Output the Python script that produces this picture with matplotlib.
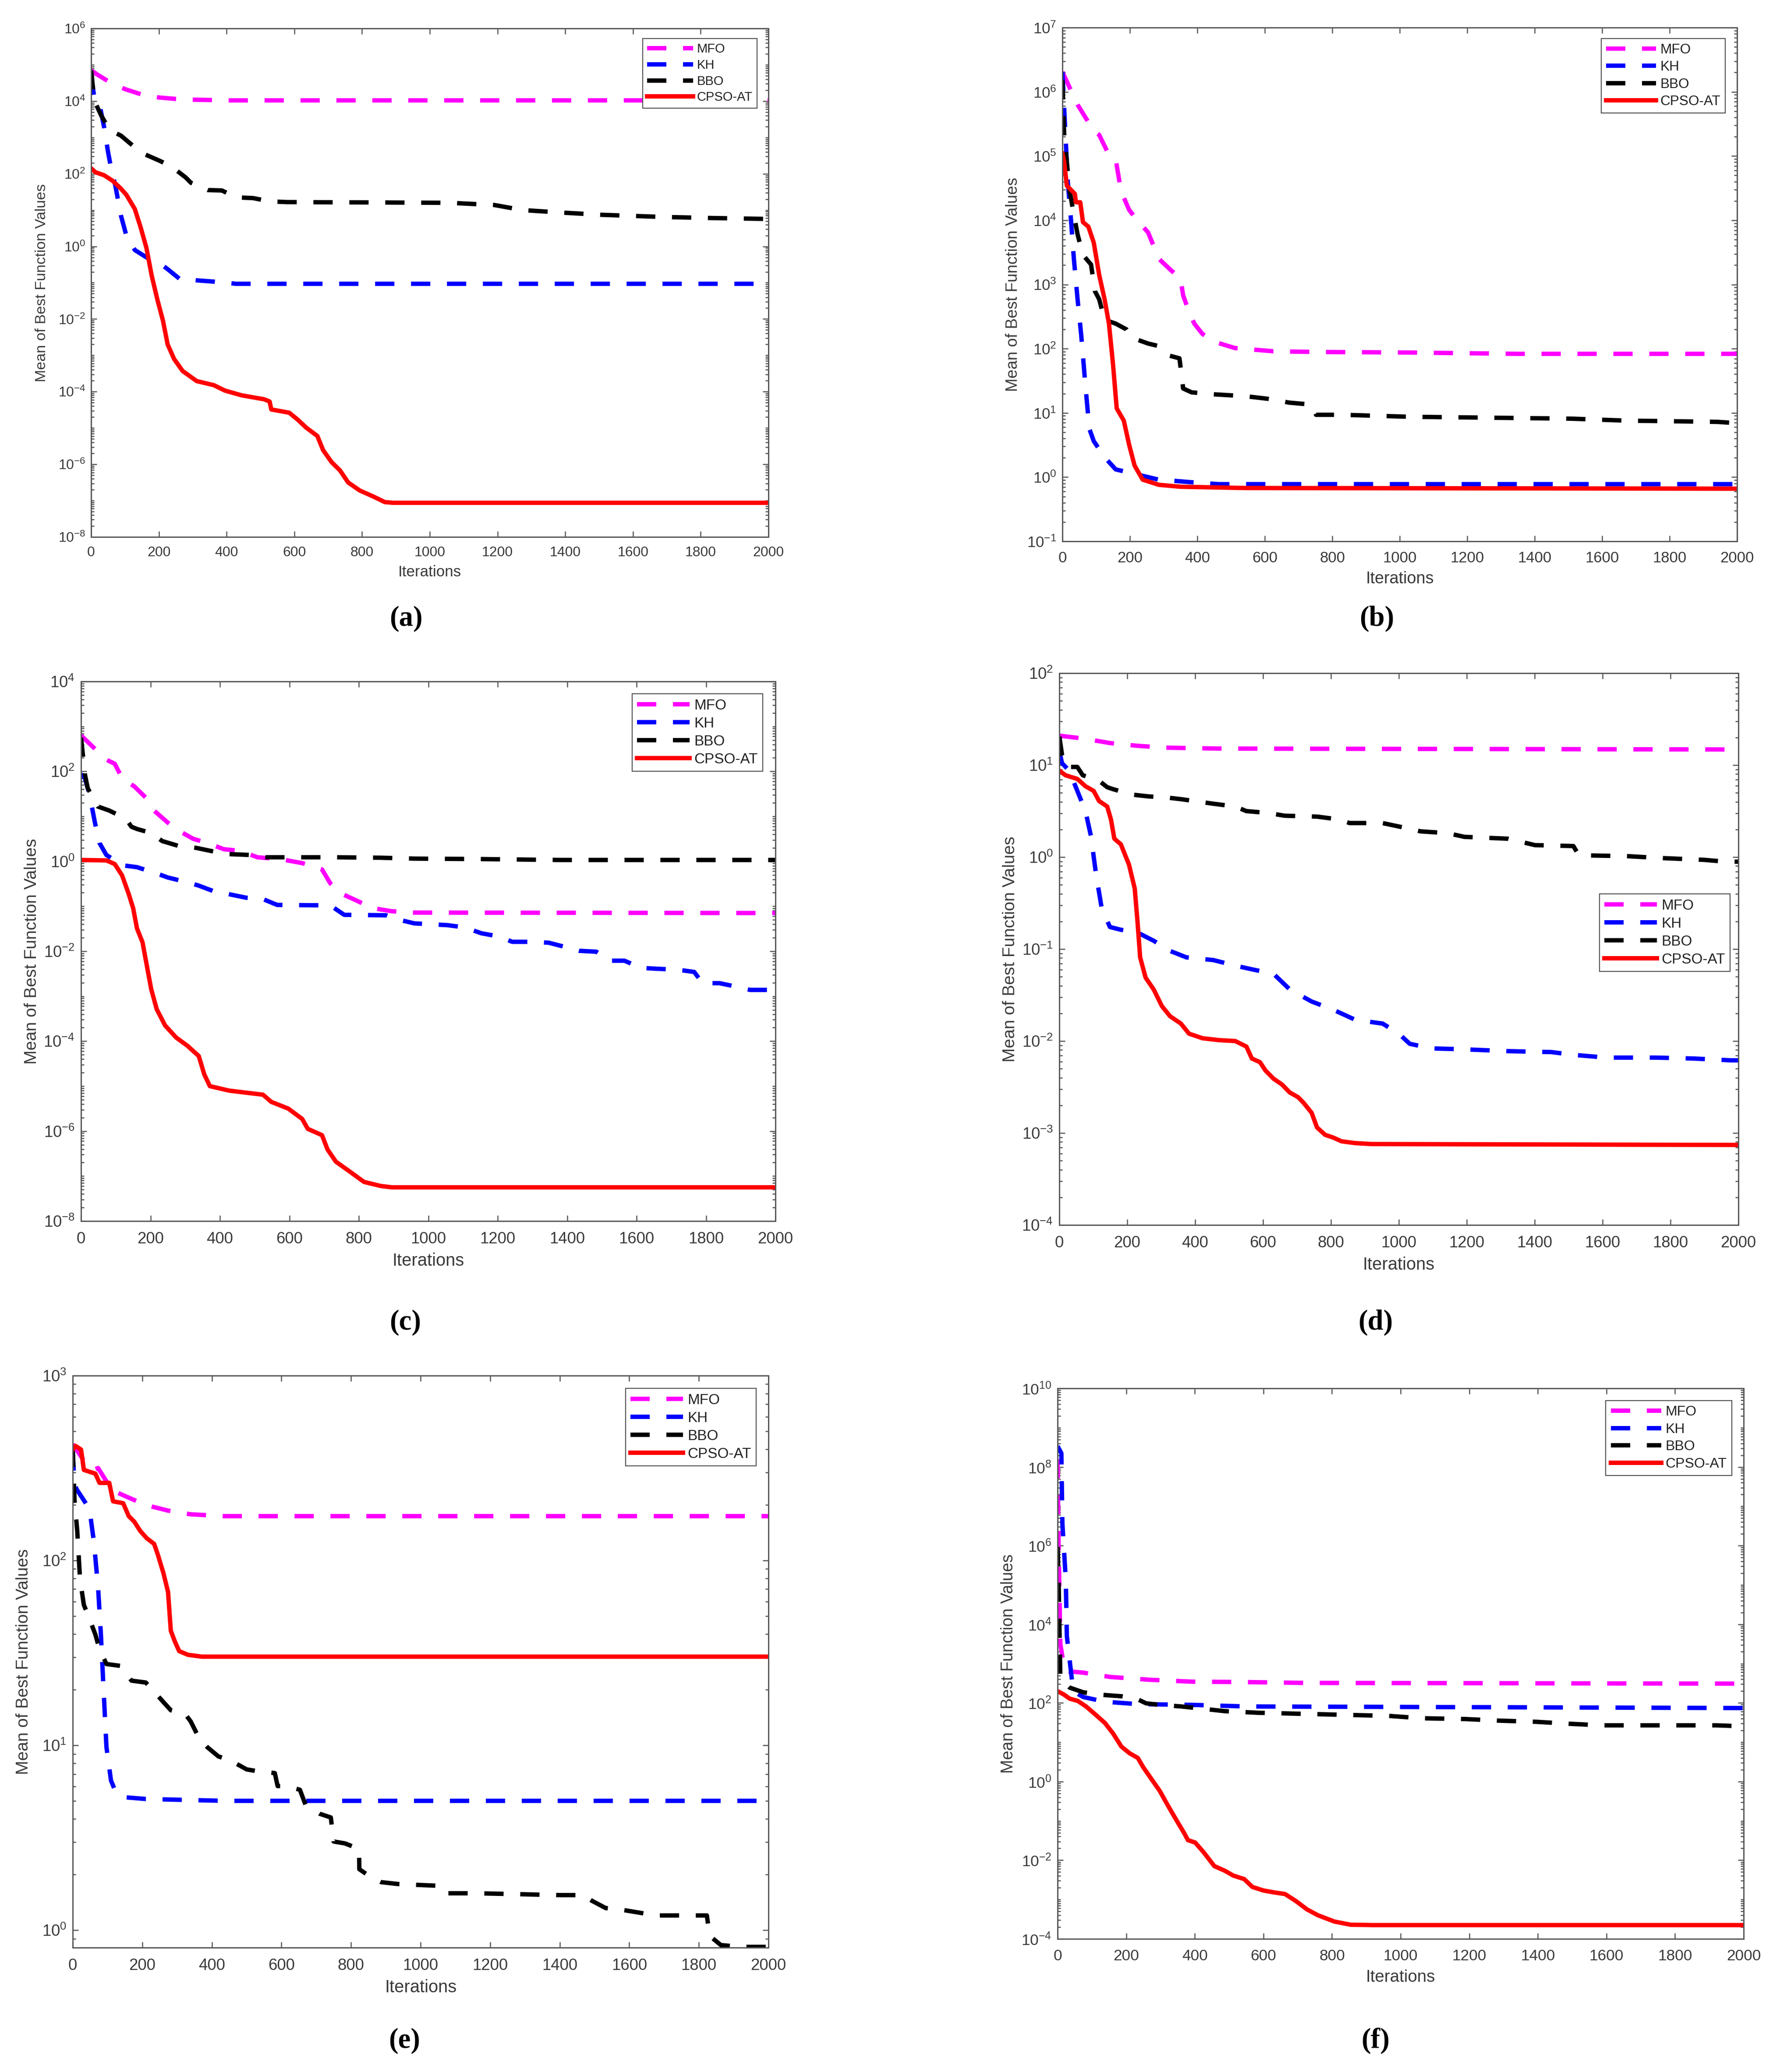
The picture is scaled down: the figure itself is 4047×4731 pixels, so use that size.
import numpy as np
import matplotlib
matplotlib.use("Agg")
import matplotlib.pyplot as plt
from matplotlib.ticker import FixedLocator, LogLocator, FuncFormatter, NullFormatter

plt.rcParams['font.family'] = ['Liberation Sans', 'DejaVu Sans']
plt.rcParams['mathtext.fontset'] = 'custom'
plt.rcParams['mathtext.rm'] = 'Liberation Sans'
plt.rcParams['mathtext.default'] = 'regular'

# ---- data: iterations and log10(mean best value) ----
labels = ['MFO', 'KH', 'BBO', 'CPSO-AT']
colors = ['#ff00ff', '#0000ff', '#000000', '#ff0000']

# (a)
a_mfo_x = [0, 20, 50, 100, 150, 200, 250, 300, 400, 2000]
a_mfo_y = [4.85, 4.72, 4.55, 4.33, 4.18, 4.1, 4.06, 4.04, 4.02, 4.02]
a_kh_x = [0, 10, 25, 38, 50, 60, 71, 88, 104, 129, 163, 204, 229, 262, 362, 428, 2000]
a_kh_y = [4.7, 4.05, 3.9, 3.3, 2.6, 2.1, 1.7, 0.85, 0.3, -0.1, -0.3, -0.47, -0.65, -0.9, -0.97, -1.03, -1.03]
a_bbo_x = [0, 5, 10, 20, 30, 55, 88, 130, 155, 204, 237, 279, 295, 345, 386, 428, 478, 527, 577,
           1058, 1190, 1274, 1390, 1506, 1689, 1838, 2000]
a_bbo_y = [4.85, 4.4, 4.0, 3.8, 3.6, 3.2, 3.05, 2.72, 2.55, 2.35, 2.2, 1.9, 1.75, 1.55, 1.54, 1.35, 1.33, 1.24, 1.22,
           1.2, 1.14, 1.0, 0.93, 0.87, 0.81, 0.78, 0.755]
a_cpso_x = [0, 13, 38, 63, 88, 104, 129, 146, 163, 179, 196, 212, 226, 245, 270, 312, 362, 395, 444, 511,
            527, 532, 585, 610, 635, 668, 685, 710, 735, 759, 793, 834, 867, 892, 2000]
a_cpso_y = [2.15, 2.04, 1.96, 1.81, 1.59, 1.42, 1.03, 0.53, -0.03, -0.81, -1.48, -2.04, -2.7, -3.1, -3.43, -3.71,
            -3.82, -3.97, -4.1, -4.21, -4.27, -4.49, -4.58, -4.77, -4.99, -5.22, -5.61, -5.94, -6.17, -6.5,
            -6.72, -6.89, -7.04, -7.06, -7.06]

# (b)
b_mfo_x = [0, 45, 93, 109, 133, 158, 174, 198, 222, 254, 286, 318, 350, 358, 375, 391, 415, 455, 511,
           624, 736, 1026, 1347, 2000]
b_mfo_y = [6.31, 5.8, 5.39, 5.33, 5.07, 4.95, 4.45, 4.16, 4.0, 3.81, 3.4, 3.24, 3.09, 2.83, 2.58, 2.39, 2.23,
           2.1, 2.01, 1.96, 1.95, 1.94, 1.92, 1.92]
b_kh_x = [0, 10, 16, 26, 34, 45, 56, 69, 80, 93, 125, 158, 206, 286, 383, 463, 2000]
b_kh_y = [6.31, 5.23, 4.6, 3.97, 3.4, 2.77, 2.2, 1.38, 0.75, 0.56, 0.31, 0.12, 0.06, -0.04, -0.08, -0.11, -0.11]
b_bbo_x = [0, 5, 13, 21, 37, 45, 61, 85, 96, 109, 125, 158, 190, 206, 254, 286, 318, 347, 358, 383, 447,
           543, 608, 672, 736, 752, 833, 1026, 1186, 1508, 1669, 1942, 2000]
b_bbo_y = [6.18, 5.36, 4.92, 4.47, 4.0, 3.78, 3.46, 3.31, 2.9, 2.77, 2.45, 2.39, 2.3, 2.17, 2.08, 2.04, 1.89,
           1.85, 1.38, 1.32, 1.29, 1.26, 1.22, 1.16, 1.13, 0.97, 0.97, 0.94, 0.93, 0.91, 0.88, 0.86, 0.84]
b_cpso_x = [0, 5, 13, 26, 37, 40, 53, 61, 77, 93, 109, 125, 138, 150, 161, 182, 198, 214, 238, 286, 350,
            543, 2000]
b_cpso_y = [5.04, 4.92, 4.54, 4.47, 4.41, 4.28, 4.28, 3.97, 3.9, 3.65, 3.15, 2.77, 2.39, 1.76, 1.07, 0.88,
            0.5, 0.18, -0.04, -0.12, -0.15, -0.17, -0.18]

# (c)
c_mfo_x = [0, 24, 73, 97, 121, 153, 194, 210, 250, 282, 323, 363, 411, 460, 508, 573, 637, 694, 718, 750,
           790, 839, 895, 960, 2000]
c_mfo_y = [2.8, 2.62, 2.26, 2.17, 1.81, 1.67, 1.36, 1.13, 0.86, 0.68, 0.5, 0.41, 0.27, 0.23, 0.09, 0.05,
           -0.04, -0.18, -0.49, -0.72, -0.86, -1.04, -1.11, -1.14, -1.15]
c_kh_x = [0, 11, 21, 32, 40, 53, 73, 121, 161, 218, 250, 298, 339, 387, 419, 476, 524, 565, 718, 758,
          879, 911, 960, 1008, 1056, 1105, 1153, 1202, 1242, 1290, 1347, 1387, 1435, 1484, 1524, 1565,
          1613, 1661, 1718, 1766, 1790, 1839, 1895, 1927, 2000]
c_kh_y = [1.94, 1.85, 1.58, 1.18, 0.86, 0.41, 0.14, -0.09, -0.13, -0.27, -0.36, -0.45, -0.54, -0.68,
          -0.72, -0.81, -0.84, -0.97, -0.98, -1.19, -1.2, -1.29, -1.38, -1.4, -1.42, -1.47, -1.6, -1.67,
          -1.79, -1.79, -1.81, -1.89, -1.99, -2.01, -2.21, -2.21, -2.37, -2.39, -2.41, -2.46, -2.71,
          -2.71, -2.8, -2.86, -2.86]
c_bbo_x = [0, 5, 11, 19, 48, 81, 129, 145, 161, 202, 234, 282, 331, 387, 427, 492, 532, 605, 734, 863,
           960, 1153, 1379, 2000]
c_bbo_y = [2.75, 2.39, 1.94, 1.63, 1.22, 1.13, 0.95, 0.77, 0.72, 0.63, 0.45, 0.34, 0.3, 0.21, 0.16, 0.14,
           0.09, 0.09, 0.09, 0.08, 0.06, 0.05, 0.03, 0.03]
c_cpso_x = [0, 73, 97, 118, 137, 150, 161, 177, 189, 202, 218, 242, 274, 306, 339, 355, 371, 427, 524,
            548, 597, 637, 653, 694, 710, 734, 774, 815, 863, 895, 2000]
c_cpso_y = [0.03, 0.02, -0.06, -0.31, -0.72, -1.04, -1.49, -1.8, -2.3, -2.84, -3.29, -3.65, -3.92, -4.1,
            -4.33, -4.74, -5.0, -5.1, -5.19, -5.35, -5.5, -5.73, -5.95, -6.09, -6.41, -6.68, -6.9, -7.13,
            -7.22, -7.25, -7.25]

# (d)
d_mfo_x = [0, 69, 149, 230, 310, 470, 2000]
d_mfo_y = [1.32, 1.29, 1.24, 1.21, 1.19, 1.18, 1.17]
d_kh_x = [0, 8, 29, 53, 77, 93, 109, 125, 149, 181, 230, 278, 326, 374, 454, 518, 567, 631, 679, 743,
          807, 872, 952, 1000, 1032, 1096, 1193, 1321, 1449, 1514, 1610, 1754, 1867, 1979, 2000]
d_kh_y = [1.15, 1.02, 0.94, 0.72, 0.5, 0.23, -0.21, -0.56, -0.76, -0.79, -0.82, -0.91, -1.02, -1.09,
          -1.12, -1.18, -1.22, -1.27, -1.44, -1.57, -1.66, -1.77, -1.81, -1.92, -2.03, -2.08, -2.09,
          -2.11, -2.12, -2.15, -2.18, -2.18, -2.19, -2.21, -2.21]
d_bbo_x = [0, 8, 21, 53, 69, 117, 141, 157, 213, 262, 310, 358, 454, 518, 551, 615, 663, 759, 823, 855,
           952, 1016, 1064, 1144, 1193, 1257, 1321, 1401, 1514, 1530, 1674, 1770, 1899, 1963, 2000]
d_bbo_y = [1.31, 1.11, 0.98, 0.98, 0.89, 0.83, 0.76, 0.74, 0.68, 0.66, 0.65, 0.63, 0.58, 0.55, 0.5, 0.48,
           0.45, 0.44, 0.41, 0.37, 0.37, 0.32, 0.28, 0.26, 0.22, 0.21, 0.2, 0.13, 0.12, 0.02, 0.01, -0.01,
           -0.03, -0.05, -0.05]
d_cpso_x = [0, 18, 53, 77, 101, 117, 141, 152, 162, 181, 205, 222, 230, 238, 254, 278, 302, 326, 358,
            382, 422, 470, 518, 551, 567, 591, 607, 631, 655, 679, 703, 719, 743, 759, 783, 807, 831, 872,
            920, 2000]
d_cpso_y = [0.94, 0.89, 0.85, 0.77, 0.72, 0.61, 0.55, 0.41, 0.2, 0.14, -0.08, -0.34, -0.69, -1.09, -1.31,
            -1.44, -1.62, -1.73, -1.81, -1.92, -1.97, -1.99, -2.0, -2.06, -2.19, -2.23, -2.32, -2.41,
            -2.47, -2.56, -2.61, -2.67, -2.78, -2.94, -3.02, -3.05, -3.09, -3.11, -3.12, -3.13]

# (e)
e_mfo_x = [0, 32, 56, 73, 113, 161, 210, 274, 339, 435, 2000]
e_mfo_y = [2.63, 2.54, 2.49, 2.5, 2.38, 2.34, 2.3, 2.27, 2.25, 2.24, 2.24]
e_kh_x = [0, 5, 13, 48, 61, 73, 81, 89, 97, 110, 121, 145, 210, 435, 2000]
e_kh_y = [2.59, 2.41, 2.38, 2.28, 2.1, 1.85, 1.6, 1.29, 0.99, 0.81, 0.76, 0.72, 0.71, 0.7, 0.7]
e_bbo_x = [0, 5, 13, 21, 32, 45, 65, 77, 97, 137, 169, 210, 234, 258, 282, 323, 339, 363, 387, 419,
           452, 500, 532, 581, 589, 613, 653, 669, 710, 742, 750, 782, 823, 824, 855, 887, 935, 1056,
           1073, 1161, 1403, 1468, 1492, 1532, 1581, 1677, 1823, 1831, 1863, 1919, 2000]
e_bbo_y = [2.61, 2.33, 2.16, 1.9, 1.76, 1.7, 1.6, 1.52, 1.44, 1.43, 1.35, 1.34, 1.29, 1.24, 1.19, 1.17,
           1.13, 1.04, 0.99, 0.94, 0.92, 0.87, 0.86, 0.85, 0.78, 0.78, 0.76, 0.68, 0.63, 0.61, 0.48, 0.47,
           0.44, 0.33, 0.29, 0.26, 0.25, 0.24, 0.2, 0.2, 0.19, 0.19, 0.16, 0.12, 0.11, 0.08, 0.08, -0.03,
           -0.08, -0.09, -0.09]
e_cpso_x = [0, 8, 24, 32, 65, 77, 105, 116, 145, 161, 177, 194, 213, 234, 245, 261, 274, 282, 294, 306,
            331, 371, 435, 2000]
e_cpso_y = [2.6, 2.62, 2.6, 2.49, 2.47, 2.42, 2.42, 2.32, 2.31, 2.24, 2.21, 2.16, 2.12, 2.09, 2.03, 1.93,
            1.83, 1.62, 1.56, 1.51, 1.49, 1.48, 1.48, 1.48]

# (f)
f_mfo_x = [0, 3, 8, 20, 35, 75, 154, 266, 393, 552, 711, 2000]
f_mfo_y = [8.2, 6.0, 3.5, 2.85, 2.8, 2.77, 2.66, 2.59, 2.54, 2.53, 2.51, 2.49]
f_kh_x = [0, 11, 14, 24, 27, 35, 43, 51, 75, 138, 234, 393, 552, 2000]
f_kh_y = [8.53, 8.35, 6.56, 5.13, 3.7, 3.1, 2.5, 2.27, 2.15, 2.03, 1.97, 1.95, 1.91, 1.87]
f_bbo_x = [0, 3, 8, 35, 75, 123, 186, 234, 258, 298, 361, 425, 488, 584, 679, 775, 870, 966, 1061, 1189,
           1284, 1395, 1491, 1587, 1921, 1985, 2000]
f_bbo_y = [5.97, 5.13, 2.62, 2.39, 2.27, 2.21, 2.17, 2.09, 1.99, 1.95, 1.91, 1.85, 1.79, 1.75, 1.73, 1.71,
           1.69, 1.67, 1.61, 1.59, 1.55, 1.52, 1.47, 1.43, 1.43, 1.41, 1.41]
f_cpso_x = [0, 19, 35, 59, 83, 107, 138, 162, 186, 210, 234, 250, 274, 298, 321, 345, 369, 380, 401, 425,
            457, 488, 512, 544, 568, 600, 632, 663, 695, 727, 759, 807, 854, 918, 2000]
f_cpso_y = [2.3, 2.21, 2.11, 2.05, 1.91, 1.73, 1.49, 1.22, 0.89, 0.72, 0.6, 0.36, 0.06, -0.24, -0.6,
            -0.96, -1.31, -1.49, -1.55, -1.79, -2.15, -2.27, -2.39, -2.48, -2.68, -2.77, -2.82, -2.86,
            -3.04, -3.25, -3.4, -3.56, -3.64, -3.65, -3.65]

# y-axis ranges (log10) and major tick exponents
a_ylim, a_yticks = (-8, 6), list(range(-8, 7, 2))
b_ylim, b_yticks = (-1, 7), list(range(-1, 8))
c_ylim, c_yticks = (-8, 4), list(range(-8, 5, 2))
d_ylim, d_yticks = (-4, 2), list(range(-4, 3))
e_ylim, e_yticks = (-0.094, 3), list(range(0, 4))
f_ylim, f_yticks = (-4, 10), list(range(-4, 11, 2))
x_ticks = list(range(0, 2001, 200))

# ---- layout in pixels ----
W, H, DPI = 4047, 4731, 300
panels = [
    # tag, series, ylim, yticks, box (L, T, R, B), legend offset (right, top), font scale, caption xy
    ('(a)', [(a_mfo_x, a_mfo_y), (a_kh_x, a_kh_y), (a_bbo_x, a_bbo_y), (a_cpso_x, a_cpso_y)],
     a_ylim, a_yticks, (208, 65, 1754, 1226), (26, 23), 1.0, (927, 1413)),
    ('(b)', [(b_mfo_x, b_mfo_y), (b_kh_x, b_kh_y), (b_bbo_x, b_bbo_y), (b_cpso_x, b_cpso_y)],
     b_ylim, b_yticks, (2425, 63, 3965, 1236), (27, 25), 1.08, (3143, 1413)),
    ('(c)', [(c_mfo_x, c_mfo_y), (c_kh_x, c_kh_y), (c_bbo_x, c_bbo_y), (c_cpso_x, c_cpso_y)],
     c_ylim, c_yticks, (185, 1556, 1770, 2788), (29, 28), 1.14, (925, 3020)),
    ('(d)', [(d_mfo_x, d_mfo_y), (d_kh_x, d_kh_y), (d_bbo_x, d_bbo_y), (d_cpso_x, d_cpso_y)],
     d_ylim, d_yticks, (2418, 1537, 3968, 2797), (19, 504), 1.14, (3140, 3020)),
    ('(e)', [(e_mfo_x, e_mfo_y), (e_kh_x, e_kh_y), (e_bbo_x, e_bbo_y), (e_cpso_x, e_cpso_y)],
     e_ylim, e_yticks, (166, 3141, 1754, 4447), (28, 29), 1.14, (923, 4660)),
    ('(f)', [(f_mfo_x, f_mfo_y), (f_kh_x, f_kh_y), (f_bbo_x, f_bbo_y), (f_cpso_x, f_cpso_y)],
     f_ylim, f_yticks, (2414, 3170, 3980, 4427), (27, 28), 1.1, (3140, 4660)),
]

axis_col = '#555555'
fig = plt.figure(figsize=(W / DPI, H / DPI), dpi=DPI)
lw = 10 * 72 / DPI

for tag, series, ylim, yticks, box, leg_off, s, cap in panels:
    L, T, R, B = box
    ax = fig.add_axes([L / W, 1 - B / H, (R - L) / W, (B - T) / H])
    for (xs, ys), lab, col in zip(series, labels, colors):
        vals = 10.0 ** np.array(ys)
        if lab == 'CPSO-AT':
            ax.plot(xs, vals, color=col, lw=lw, label=lab, solid_joinstyle='round')
        else:
            ax.plot(xs, vals, color=col, lw=lw, label=lab, linestyle=(0, (4.4, 3.8)),
                    dash_capstyle='butt')
    ax.set_yscale('log')
    ax.set_xlim(0, 2000)
    ax.set_ylim(10.0 ** ylim[0], 10.0 ** ylim[1])
    ax.xaxis.set_major_locator(FixedLocator(x_ticks))
    ax.yaxis.set_major_locator(FixedLocator([10.0 ** k for k in yticks]))
    ax.yaxis.set_major_formatter(FuncFormatter(lambda v, p: r'$10^{%d}$' % round(np.log10(v))))
    ax.yaxis.set_minor_locator(LogLocator(base=10, subs=np.arange(1, 10), numticks=200))
    ax.yaxis.set_minor_formatter(NullFormatter())

    fs = 7.7 * s
    ax.tick_params(which='both', direction='in', top=True, right=True, colors=axis_col,
                   labelcolor='#3a3a3a', width=0.6)
    ax.tick_params(which='major', length=3.1)
    ax.tick_params(which='minor', length=1.6)
    ax.tick_params(axis='x', labelsize=fs, pad=5.0 * s)
    ax.tick_params(axis='y', labelsize=fs, pad=3.0 * s)
    for sp in ax.spines.values():
        sp.set_color(axis_col)
        sp.set_linewidth(0.7)

    wpx, hpx = R - L, B - T
    ax.set_xlabel('Iterations', fontsize=8.4 * s, color='#3a3a3a')
    ax.xaxis.label.set_va('center')
    ax.xaxis.set_label_coords(0.5, -80 * s / hpx)
    ax.set_ylabel('Mean of Best Function Values', fontsize=8.2 * s, color='#3a3a3a')
    ax.yaxis.label.set_va('center')
    ax.yaxis.set_label_coords(-112 / wpx, 0.5)

    dx, dy = leg_off
    leg = ax.legend(loc='upper right', bbox_to_anchor=(1 - dx / wpx, 1 - dy / hpx),
                    borderaxespad=0, fancybox=False, framealpha=1, edgecolor='#555555',
                    fontsize=7.0 * s, handlelength=3.6, handletextpad=0.3, borderpad=0.35,
                    labelspacing=0.3)
    leg.get_frame().set_linewidth(0.55)
    for t in leg.get_texts():
        t.set_color('#222222')

    fig.text(cap[0] / W, 1 - cap[1] / H, tag, ha='center', va='center', fontsize=15.5,
             fontweight='bold', family=['Liberation Serif', 'DejaVu Serif'])

fig.savefig('out.png', dpi=DPI, facecolor='white')
